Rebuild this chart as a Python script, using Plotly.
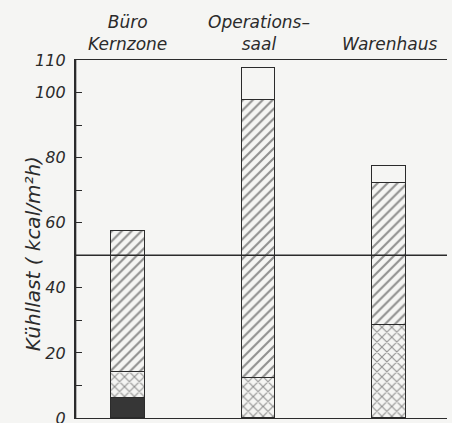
import plotly.graph_objects as go

categories = ["Büro<br>Kernzone", "Operations–<br>saal", "Warenhaus"]
x_pos = [0, 1, 2]
dark_part = [6.2, 0, 0]
crosshatch_part = [8.0, 12.2, 28.6]
diagonal_part = [43.3, 85.5, 43.7]
white_part = [0, 9.9, 5.1]
reference_line = 50
y_range = [0, 110]
x_range = [-0.406, 2.444]
tick_vals = [0, 10, 20, 30, 40, 50, 60, 70, 80, 90, 100, 110]
tick_text = ["0", "", "20", "", "40", "", "60", "", "80", "", "100", "110"]

BG = "#f5f5f3"
INK = "#2b2b2b"
FONT = "DejaVu Sans"
W = 0.26

fig = go.Figure()
fig.add_bar(x=x_pos, y=dark_part, width=W, marker=dict(color="#363636", line=dict(color=INK, width=1.2)))
fig.add_bar(x=x_pos, y=crosshatch_part, width=W,
            marker=dict(color=BG, line=dict(color=INK, width=1.2),
                        pattern=dict(shape="x", size=7, solidity=0.3, fgcolor=INK, bgcolor=BG)))
fig.add_bar(x=x_pos, y=diagonal_part, width=W,
            marker=dict(color=BG, line=dict(color=INK, width=1.2),
                        pattern=dict(shape="/", size=7, solidity=0.3, fgcolor=INK, bgcolor=BG)))
fig.add_bar(x=x_pos, y=white_part, width=W, marker=dict(color=BG, line=dict(color=INK, width=1.2)))

# left spine as a line along the axis edge
fig.add_scatter(x=[x_range[0] + 0.004, x_range[0] + 0.004], y=y_range, mode="lines",
                line=dict(color=INK, width=1.6), cliponaxis=False, hoverinfo="skip")

fig.add_hline(y=reference_line, line=dict(color=INK, width=1.3), layer="above")

for xp, cat in zip(x_pos, categories):
    fig.add_annotation(x=xp, y=1, xref="x", yref="paper", yanchor="bottom", yshift=4,
                       text=cat, showarrow=False, align="center",
                       font=dict(family=FONT, size=17, color=INK, style="italic"))

fig.add_annotation(x=-0.113, y=0.46, xref="paper", yref="paper", text="Kühllast ( kcal/m²h)",
                   textangle=-90, showarrow=False, xanchor="center", yanchor="middle",
                   font=dict(family=FONT, size=20, color=INK, style="italic"))

fig.update_layout(
    width=452, height=423, barmode="stack", showlegend=False,
    margin=dict(l=75, r=5, t=60, b=5, autoexpand=False),
    paper_bgcolor=BG, plot_bgcolor=BG, bargap=0,
    xaxis=dict(range=x_range, showgrid=False, zeroline=False, showticklabels=False,
               ticks="", showline=True, mirror=True, linecolor=INK, linewidth=1.3),
    yaxis=dict(range=y_range, showgrid=False, zeroline=False, tickmode="array",
               tickvals=tick_vals, ticktext=tick_text, ticks="inside", ticklen=7,
               tickcolor=INK, tickwidth=1.3, showline=True, linecolor=INK, linewidth=1.3,
               ticklabelstandoff=5, automargin=False, ticklabeloverflow="allow",
               tickfont=dict(family=FONT, size=16, color=INK, style="italic")),
)

fig.write_html("out.html", config={"displayModeBar": False},
               post_script="document.body.style.margin='0';document.body.style.padding='0';"
                           "document.body.style.background='#f5f5f3';"
                           "document.documentElement.style.overflow='hidden';")
